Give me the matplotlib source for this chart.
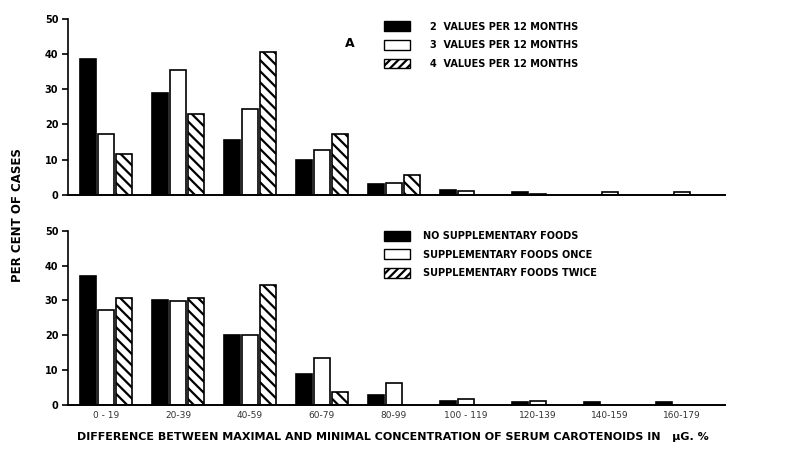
import numpy as np
import matplotlib
matplotlib.use("Agg")
import matplotlib.pyplot as plt
from matplotlib.patches import Patch

# === DATA ===
groups = ["0 - 19", "20-39", "40-59", "60-79", "80-99",
          "100 - 119", "120-139", "140-159", "160-179"]

top_two   = [38.5, 29.0, 15.7, 10.0, 3.0, 1.3, 0.8, 0.0, 0.0]
top_three = [17.2, 35.5, 24.5, 12.9, 3.5, 1.1, 0.4, 0.9, 0.8]
top_four  = [11.7, 23.0, 40.5, 17.2, 5.6, 0.0, 0.0, 0.0, 0.0]
top_labels = ["2  VALUES PER 12 MONTHS", "3  VALUES PER 12 MONTHS",
              "4  VALUES PER 12 MONTHS"]

bot_none  = [37.0, 30.0, 20.0, 9.0, 3.0, 1.2, 0.8, 0.8, 0.8]
bot_once  = [27.3, 29.7, 20.0, 13.6, 6.3, 1.7, 1.1, 0.0, 0.0]
bot_twice = [30.6, 30.7, 34.4, 3.7, 0.0, 0.0, 0.0, 0.0, 0.0]
bot_labels = ["NO SUPPLEMENTARY FOODS", "SUPPLEMENTARY FOODS ONCE",
              "SUPPLEMENTARY FOODS TWICE"]

yticks = [0, 10, 20, 30, 40, 50]

plt.rcParams["hatch.linewidth"] = 1.6
plt.rcParams["font.family"] = "DejaVu Sans"

fig = plt.figure(figsize=(7.86, 4.5), dpi=100)
ax1 = fig.add_axes([0.0865, 0.5667, 0.8355, 0.3955])
ax2 = fig.add_axes([0.0865, 0.1000, 0.8355, 0.3911])

x = np.arange(len(groups))
W = 0.22
OFF = 0.25

def draw(ax, s1, s2, s3, labels, textpad, top):
    kw = dict(width=W, edgecolor="black", linewidth=1.2)
    for xi, v in zip(x, s1):
        if v > 0: ax.bar(xi - OFF, v, color="black", **kw)
    for xi, v in zip(x, s2):
        if v > 0: ax.bar(xi, v, color="white", **kw)
    for xi, v in zip(x, s3):
        if v > 0: ax.bar(xi + OFF, v, color="white", hatch="\\\\\\", **kw)
    ax.set_xlim(-0.528, 8.597)
    ax.set_ylim(0, 50.5)
    ax.spines["top"].set_visible(False)
    ax.spines["right"].set_visible(False)
    ax.spines["left"].set_bounds(0, 50)
    ax.spines["left"].set_linewidth(1.2)
    ax.spines["bottom"].set_linewidth(1.4)
    ax.set_yticks(yticks)
    ax.set_yticklabels([str(t) for t in yticks], fontsize=7, fontweight="bold")
    ax.tick_params(axis="y", direction="out", length=4, width=1.2, pad=3)
    handles = [Patch(facecolor="black", edgecolor="black"),
               Patch(facecolor="white", edgecolor="black"),
               Patch(facecolor="white", edgecolor="black", hatch="////")]
    ax.legend(handles, labels, loc="upper left", bbox_to_anchor=(0.481, top),
              frameon=False, borderpad=0, borderaxespad=0,
              handlelength=2.7, handleheight=1.2,
              handletextpad=textpad, labelspacing=0.85,
              prop={"size": 7, "weight": "bold"})

draw(ax1, top_two, top_three, top_four, top_labels, 2.0, 0.975)
ax1.set_xticks([])
ax1.text(3.32, 42, "A", fontsize=9, fontweight="bold")

draw(ax2, bot_none, bot_once, bot_twice, bot_labels, 1.3, 0.99)
ax2.set_xticks(x)
ax2.set_xticklabels(groups, fontsize=6.5, color="#333333")
ax2.tick_params(axis="x", length=0, pad=4)

fig.text(0.022, 0.522, "PER CENT OF CASES", rotation=90, ha="center", va="center",
         fontsize=8.5, fontweight="bold")
fig.text(0.5, 0.028,
         "DIFFERENCE BETWEEN MAXIMAL AND MINIMAL CONCENTRATION OF SERUM CAROTENOIDS IN   \u03bcG. %",
         ha="center", va="center", fontsize=8, fontweight="bold")

fig.savefig("out.png", dpi=100)
